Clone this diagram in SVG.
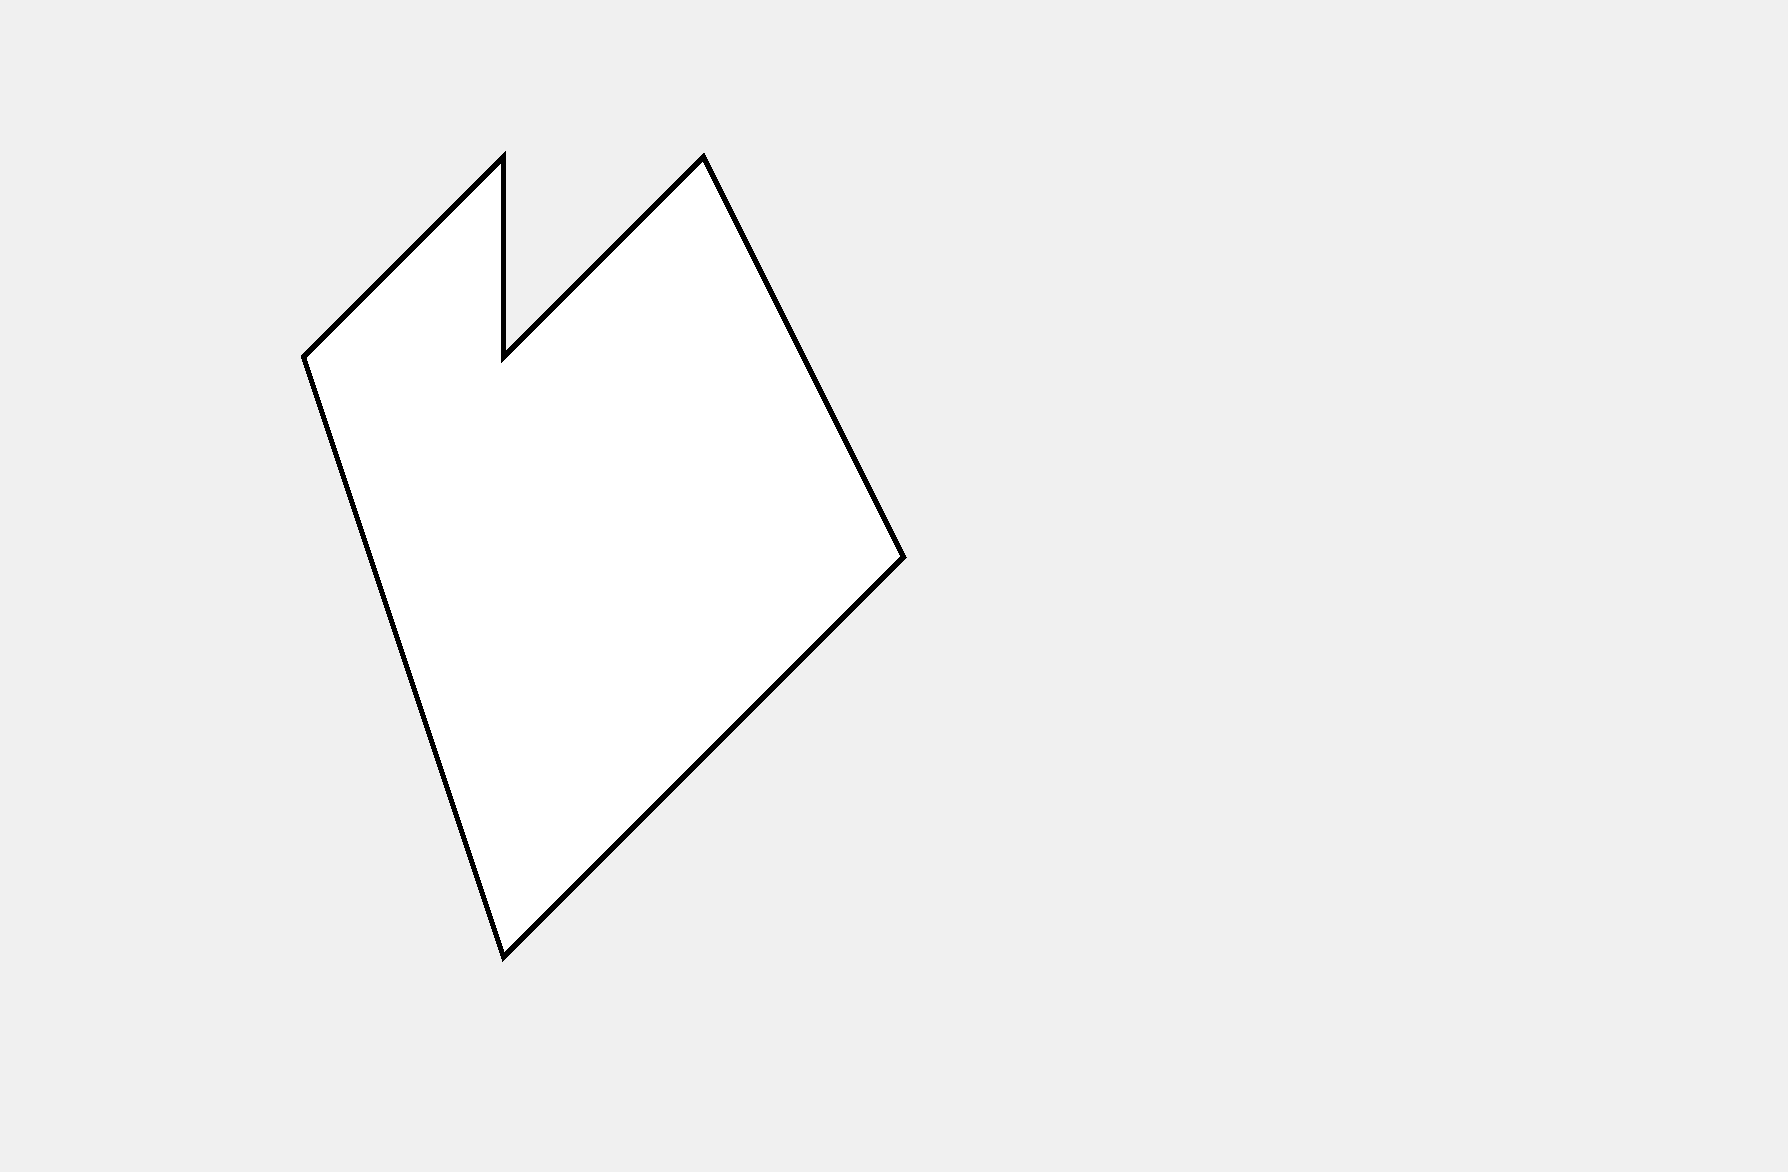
<svg xmlns="http://www.w3.org/2000/svg" width="1788" height="1172" viewBox="0 0 1788 1172">
<style>.shape{fill:#ffffff;stroke:#000000;stroke-width:5;stroke-linejoin:miter;shape-rendering:crispEdges}</style>
<rect width="1788" height="1172" fill="#f0f0f0"/>
<g id="shape">
<polygon class="shape" points="303.5,357 503.5,157 503.5,357 703.5,157 903.5,557 503.5,957"/>
</g>
</svg>
